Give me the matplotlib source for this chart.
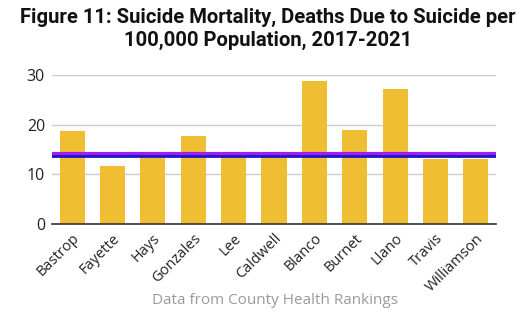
import matplotlib
matplotlib.use("Agg")
import matplotlib.pyplot as plt
import numpy as np

counties = ["Bastrop", "Fayette", "Hays", "Gonzales", "Lee", "Caldwell",
            "Blanco", "Burnet", "Llano", "Travis", "Williamson"]
rates = [18.7, 11.7, 13.3, 17.8, 14.4, 13.6, 28.7, 19.0, 27.1, 13.1, 13.1]
texas_rate = 14.1
us_rate = 13.7
y_ticks = [0, 10, 20, 30]

fig = plt.figure(figsize=(5.3, 3.18), dpi=100)
ax = fig.add_axes([52 / 530, 1 - 224 / 318, 444 / 530, 149 / 318])

x = np.arange(len(counties))
ax.bar(x, rates, width=0.62, color="#F0BE32", zorder=2)
ax.axhline(texas_rate, color="#A01EF0", linewidth=3.0, zorder=3)
ax.axhline(us_rate, color="#1E14C8", linewidth=2.0, zorder=4)

ax.set_xlim(-0.5, len(counties) - 0.5)
ax.set_ylim(0, 30)
ax.set_yticks(y_ticks)
ax.set_yticklabels([str(t) for t in y_ticks], fontsize=11.5, family="Open Sans", color="#222222")
ax.set_xticks(x)
ax.set_xticklabels(counties, rotation=45, ha="right", rotation_mode="anchor",
                   fontsize=10.5, family="Open Sans", color="#222222")
ax.tick_params(axis="both", length=0, pad=5)
ax.grid(axis="y", color="#cccccc", linewidth=1, zorder=0)
for s in ["top", "right", "left"]:
    ax.spines[s].set_visible(False)
ax.spines["bottom"].set_color("#333333")
ax.spines["bottom"].set_linewidth(1.2)

fig.text(0.505, 0.975, "Figure 11: Suicide Mortality, Deaths Due to Suicide per\n100,000 Population, 2017-2021",
         ha="center", va="top", fontsize=14.6, fontweight="bold", family="Roboto",
         linespacing=1.25, color="#111111")
fig.text(275 / 530, 1 - 301 / 318, "Data from County Health Rankings", ha="center", va="center",
         fontsize=11, family="Open Sans", color="#9a9a9a")

fig.savefig("out.png", dpi=100)
